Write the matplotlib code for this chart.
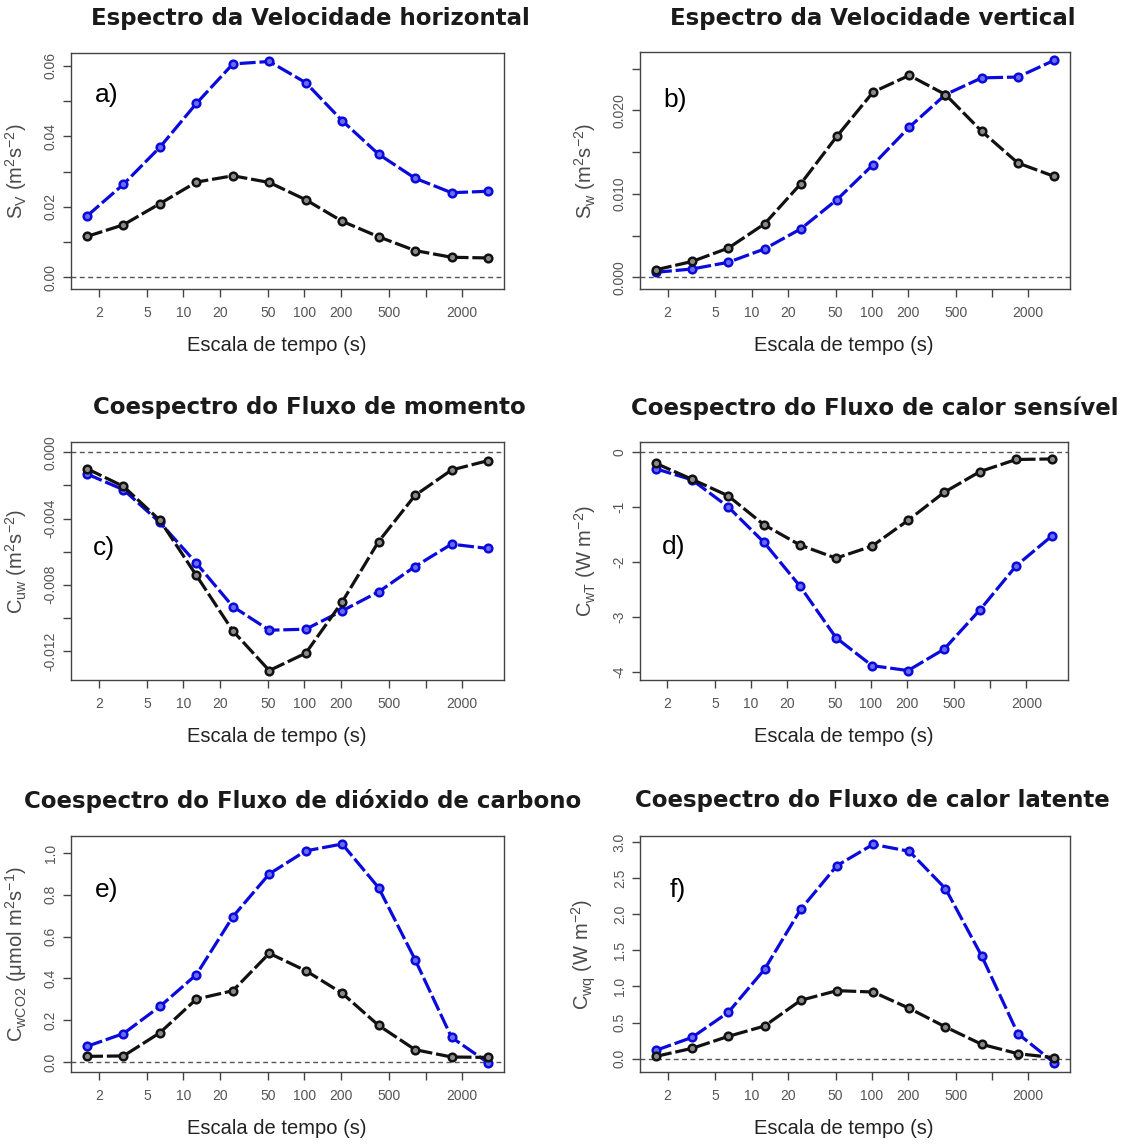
import numpy as np
import matplotlib
matplotlib.use("Agg")
import matplotlib.pyplot as plt

plt.rcParams['font.family'] = ['Liberation Sans', 'DejaVu Sans']
plt.rcParams['mathtext.fontset'] = 'custom'
plt.rcParams['mathtext.rm'] = 'Liberation Sans'
plt.rcParams['mathtext.it'] = 'Liberation Sans:italic'

# escalas de tempo (s)
escala = [1.6, 3.2, 6.4, 12.8, 25.6, 51.2, 102.4, 204.8, 409.6, 819.2, 1638.4, 3276.8]

# a) espectro da velocidade horizontal
sv_azul = [0.0174, 0.0264, 0.0369, 0.0493, 0.0605, 0.0612, 0.0552, 0.0444, 0.0349, 0.0281, 0.0240, 0.0244]
sv_preto = [0.0116, 0.0149, 0.0209, 0.0270, 0.0288, 0.0269, 0.0220, 0.0159, 0.0115, 0.0076, 0.0057, 0.0055]

# b) espectro da velocidade vertical
sw_azul = [0.0006, 0.0010, 0.0018, 0.0034, 0.0058, 0.0093, 0.0135, 0.0180, 0.0219, 0.0239, 0.0240, 0.0260]
sw_preto = [0.0009, 0.0019, 0.0035, 0.0064, 0.0112, 0.0169, 0.0222, 0.0242, 0.0219, 0.0175, 0.0137, 0.0121]

# c) coespectro do fluxo de momento
cuw_azul = [-0.00131, -0.00226, -0.00424, -0.00670, -0.00932, -0.01075, -0.01069, -0.00958,
            -0.00843, -0.00690, -0.00555, -0.00581]
cuw_preto = [-0.00099, -0.00206, -0.00411, -0.00744, -0.01079, -0.01319, -0.01214, -0.00904,
             -0.00539, -0.00260, -0.00107, -0.00050]

# d) coespectro do fluxo de calor sensivel
cwt_azul = [-0.30, -0.50, -0.99, -1.64, -2.44, -3.38, -3.89, -3.98, -3.59, -2.87, -2.07, -1.52]
cwt_preto = [-0.20, -0.49, -0.79, -1.32, -1.69, -1.93, -1.71, -1.24, -0.73, -0.35, -0.13, -0.12]

# e) coespectro do fluxo de CO2
cwc_azul = [0.075, 0.136, 0.266, 0.418, 0.695, 0.900, 1.010, 1.043, 0.834, 0.490, 0.118, -0.003]
cwc_preto = [0.027, 0.029, 0.140, 0.301, 0.341, 0.520, 0.437, 0.329, 0.175, 0.059, 0.024, 0.022]

# f) coespectro do fluxo de calor latente
cwq_azul = [0.115, 0.295, 0.642, 1.237, 2.068, 2.673, 2.968, 2.872, 2.355, 1.422, 0.346, -0.055]
cwq_preto = [0.032, 0.143, 0.309, 0.452, 0.808, 0.942, 0.923, 0.697, 0.439, 0.199, 0.069, 0.014]

titulos = ["Espectro da Velocidade horizontal", "Espectro da Velocidade vertical",
           "Coespectro do Fluxo de momento", "Coespectro do Fluxo de calor sensível",
           "Coespectro do Fluxo de dióxido de carbono", "Coespectro do Fluxo de calor latente"]
ylabels = [r"$\mathrm{S_V\ (m^2 s^{-2})}$", r"$\mathrm{S_w\ (m^2 s^{-2})}$",
           r"$\mathrm{C_{uw}\ (m^2 s^{-2})}$", r"$\mathrm{C_{wT}\ (W\ m^{-2})}$",
           r"$\mathrm{C_{wCO2}\ (μmol\ m^2 s^{-1})}$", r"$\mathrm{C_{wq}\ (W\ m^{-2})}$"]
letras = ["a)", "b)", "c)", "d)", "e)", "f)"]
series = [(sv_azul, sv_preto), (sw_azul, sw_preto), (cuw_azul, cuw_preto),
          (cwt_azul, cwt_preto), (cwc_azul, cwc_preto), (cwq_azul, cwq_preto)]

xticks = [2, 5, 10, 20, 50, 100, 200, 500, 1000, 2000]
xticklabels = ["2", "5", "10", "20", "50", "100", "200", "500", "", "2000"]

# limites, marcas e rotulos do eixo y de cada painel
ylims = [(-0.0033, 0.0636), (-0.0014, 0.0270), (-0.01376, 0.000625),
         (-4.152, 0.189), (-0.0478, 1.0813), (-0.1847, 3.084)]
yticks = [np.arange(0, 0.0601, 0.01), np.arange(0, 0.0251, 0.005), np.arange(0, -0.01201, -0.002),
          np.arange(0, -4.01, -1), np.arange(0, 1.01, 0.2), np.arange(0, 3.01, 0.5)]
ytick_fmt = [("{:.2f}", 2), ("{:.3f}", 2), ("{:.3f}", 2), ("{:.0f}", 1), ("{:.1f}", 1), ("{:.1f}", 1)]

W, H = 1123, 1147
fig = plt.figure(figsize=(W / 100, H / 100), dpi=100)

# caixas dos paineis em pixels: esquerda, topo, direita, base
caixas = [(71, 53, 504, 289), (640, 52, 1070, 289),
          (71, 442, 504, 680), (640, 442, 1068, 680),
          (71, 836, 504, 1072), (640, 836, 1070, 1072)]
titulo_pos = [(310, 19), (873, 19), (309, 408), (875, 408), (303, 801), (872, 801)]
letra_pos = [(95, 95), (663, 100), (93, 548), (662, 547), (95, 890), (670, 890)]

lx = np.log10(escala)
pad = 0.04 * (lx.max() - lx.min())
xlim = (10 ** (lx.min() - pad), 10 ** (lx.max() + pad))

cinza = "#444444"
for i, (l, t, r, b) in enumerate(caixas):
    ax = fig.add_axes([l / W, 1 - b / H, (r - l) / W, (b - t) / H])
    azul, preto = series[i]
    ax.axhline(0, color="#555555", lw=1.0, ls=(0, (3.5, 2.5)), zorder=1)
    ax.plot(escala, azul, color="#0a0adc", lw=2.3, ls=(0, (5, 1.2)), marker="o",
            ms=5.5, mew=1.8, mfc="#6b6bf0", mec="#0a0adc", zorder=3)
    ax.plot(escala, preto, color="#111111", lw=2.3, ls=(0, (5, 1.2)), marker="o",
            ms=5.5, mew=1.8, mfc="#8a8a8a", mec="#111111", zorder=4)

    ax.set_xscale("log")
    ax.set_xlim(xlim)
    ax.set_xticks(xticks)
    ax.set_xticklabels(xticklabels)
    ax.xaxis.set_minor_locator(matplotlib.ticker.NullLocator())
    ax.set_ylim(ylims[i])
    fmt, step = ytick_fmt[i]
    ax.set_yticks(yticks[i])
    labs = []
    for k, v in enumerate(yticks[i]):
        s = fmt.format(abs(v) if abs(v) < 1e-12 else v)
        labs.append(s if k % step == 0 else "")
    ax.set_yticklabels(labs, rotation=90, va="center")

    for sp in ax.spines.values():
        sp.set_color(cinza)
        sp.set_linewidth(1.0)
    ax.tick_params(axis="both", direction="out", length=5.5, width=1.0, color=cinza,
                   labelsize=10, labelcolor="#555555")
    ax.tick_params(axis="x", pad=7)
    ax.tick_params(axis="y", pad=4)

    ax.set_ylabel(ylabels[i], fontsize=14.5, color="#4a4a4a")
    ax.yaxis.set_label_coords(-42 / (r - l), 0.5)
    ax.text(0.475, -57 / (b - t), "Escala de tempo (s)", transform=ax.transAxes,
            ha="center", va="center", fontsize=14.5, color="#222222")

    tx, ty = titulo_pos[i]
    fig.text(tx / W, 1 - ty / H, titulos[i], ha="center", va="center",
             fontsize=16.5, fontweight="bold", color="#1a1a1a",
             family=["DejaVu Sans"])
    px, py = letra_pos[i]
    fig.text(px / W, 1 - py / H, letras[i], ha="left", va="center",
             fontsize=19, color="black")

fig.savefig("out.png", dpi=100)
